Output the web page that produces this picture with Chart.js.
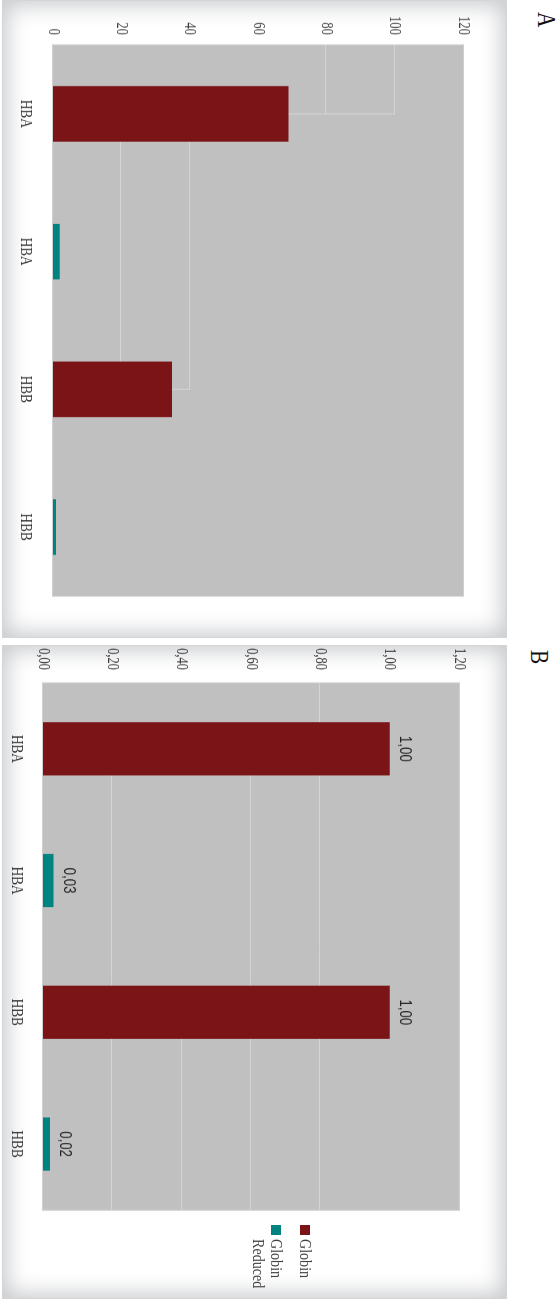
<!DOCTYPE html>
<html>
<head>
<meta charset="utf-8">
<title>Globin A / B</title>
<script src="https://cdn.jsdelivr.net/npm/chart.js@4"></script>
<style>
  html, body { margin: 0; padding: 0; background: #fff; }
  body { width: 559px; height: 1299px; overflow: hidden; position: relative; }
  /* the whole figure is laid out 1299x559 and turned a quarter clockwise */
  #stage { position: absolute; left: 0; top: 0; width: 1299px; height: 559px;
           transform-origin: 0 0; transform: translateX(559px) rotate(90deg); }
  .tag { position: absolute; font: 25px "Liberation Serif"; line-height: 25px; color: #111;
         transform: scaleX(0.85); transform-origin: 0 0; }
  .panel { position: absolute; top: 52px; height: 505px; background: #fff;
           box-shadow: inset 0 0 0 1px #d4d5d7, inset 0 0 22px 5px #c6c8cb; }
  .panel canvas { position: absolute; left: 0; top: 0; }
  #legendB { position: absolute; left: 580px; top: 193px; font: 16px "Liberation Serif";
             line-height: 18px; color: #444; }
  .item { display: flex; align-items: flex-start; margin-bottom: 11px; }
  .swatch { width: 10px; height: 10px; margin-top: 4px; margin-right: 4px; flex: none; }
  .label { display: inline-block; width: 70px; transform: scaleX(0.88); transform-origin: 0 0; }
</style>
</head>
<body>
<div id="stage">
  <div class="tag" style="left:12px; top:0px">A</div>
  <div class="panel" style="left:0px; width:638px">
    <canvas id="chartA" width="818" height="505" style="width:638px;height:505px"></canvas>
  </div>
  <div class="tag" style="left:650px; top:7px">B</div>
  <div class="panel" style="left:645px; width:654px">
    <canvas id="chartB" width="838" height="505" style="width:654px;height:505px"></canvas>
    <div id="legendB"></div>
  </div>
</div>

<script>
const categories = ['HBA', 'HBA', 'HBB', 'HBB'];
const seriesNames = ['Globin', 'Globin Reduced'];
const seriesColors = ['#7b1416', '#008482'];

// panel A
const globinA = [68.9, null, 34.8, null];
const reducedA = [null, 2.0, null, 0.9];
const ticksA = [0, 20, 40, 60, 80, 100, 120];

// panel B
const globinB = [1.00, null, 1.00, null];
const reducedB = [null, 0.03, null, 0.02];
const ticksB = [0, 0.2, 0.4, 0.6, 0.8, 1.0, 1.2];

// grid lines only show in pieces: value, and category span they run over
const gridA = [
  { value: 80, from: -0.5, to: 0 },
  { value: 100, from: -0.5, to: 0 },
  { value: 20, from: 0, to: 2 },
  { value: 40, from: 0, to: 2 }
];
const risersA = [{ at: 0, top: 100 }, { at: 2, top: 40 }];
const gridB = [
  { value: 0.2, from: 0, to: 3.5 },
  { value: 0.4, from: 2, to: 3.5 },
  { value: 0.6, from: 0, to: 3.5 },
  { value: 0.8, from: -0.5, to: 3.5 }
];

const SQ = 0.78; // the source picture is squeezed sideways

const plotBg = {
  id: 'plotBg',
  beforeDraw(chart) {
    const { ctx, chartArea: a } = chart;
    ctx.save();
    ctx.fillStyle = '#c0c0c0';
    ctx.fillRect(a.left, a.top, a.width, a.height);
    ctx.strokeStyle = '#d0d0d0';
    ctx.lineWidth = 1;
    ctx.strokeRect(a.left - 0.5, a.top - 0.5, a.width + 1, a.height + 1);
    ctx.restore();
  }
};

const gridBits = {
  id: 'gridBits',
  beforeDatasetsDraw(chart, args, opts) {
    const { ctx, scales: { x, y } } = chart;
    ctx.save();
    ctx.strokeStyle = '#d4d4d4';
    ctx.lineWidth = 1;
    ctx.beginPath();
    (opts.lines || []).forEach(g => {
      const py = Math.round(y.getPixelForValue(g.value)) + 0.5;
      ctx.moveTo(x.getPixelForValue(g.from), py);
      ctx.lineTo(x.getPixelForValue(g.to), py);
    });
    ctx.stroke();
    ctx.lineWidth = 1 / SQ;
    ctx.beginPath();
    (opts.risers || []).forEach(r => {
      const px = x.getPixelForValue(r.at);
      ctx.moveTo(px, y.getPixelForValue(0));
      ctx.lineTo(px, Math.round(y.getPixelForValue(r.top)));
    });
    ctx.stroke();
    ctx.restore();
  }
};

const valueLabels = {
  id: 'valueLabels',
  afterDatasetsDraw(chart) {
    const { ctx } = chart;
    ctx.save();
    ctx.font = '17px "Liberation Sans"';
    ctx.fillStyle = '#222';
    ctx.textAlign = 'center';
    ctx.textBaseline = 'middle';
    chart.data.datasets.forEach((ds, i) => {
      chart.getDatasetMeta(i).data.forEach((bar, j) => {
        const v = ds.data[j];
        if (v == null) return;
        ctx.fillText(v.toFixed(2).replace('.', ','), bar.x, bar.y - 15);
      });
    });
    ctx.restore();
  }
};

function buildChart(id, globin, reduced, ticks, fmt, lay, bits, plugins) {
  return new Chart(document.getElementById(id), {
    type: 'bar',
    data: {
      labels: categories,
      datasets: [
        { label: seriesNames[0], data: globin, backgroundColor: seriesColors[0] },
        { label: seriesNames[1], data: reduced, backgroundColor: seriesColors[1] }
      ]
    },
    options: {
      responsive: false,
      animation: false,
      datasets: { bar: { grouped: false, categoryPercentage: 0.8, barPercentage: 0.505 } },
      layout: { padding: { top: lay.top, right: lay.right, left: 0, bottom: 0 } },
      plugins: { legend: { display: false }, tooltip: { enabled: false }, gridBits: bits },
      scales: {
        x: {
          grid: { display: false, drawTicks: false },
          border: { display: false },
          ticks: {
            color: '#333',
            font: { family: 'Liberation Serif', size: 17 },
            padding: lay.xPad,
            maxRotation: 0,
            autoSkip: false
          },
          afterFit: s => { s.height = lay.xHeight; }
        },
        y: {
          min: 0,
          max: ticks[ticks.length - 1],
          grid: { display: false, drawTicks: false },
          border: { display: false },
          ticks: {
            color: '#3c3c3c',
            font: { family: 'Liberation Serif', size: 16 },
            padding: lay.yPad,
            callback: fmt
          },
          afterBuildTicks: s => { s.ticks = ticks.map(v => ({ value: v })); },
          afterFit: s => { s.width = lay.yWidth; }
        }
      }
    },
    plugins: plugins
  });
}

buildChart('chartA', globinA, reducedA, ticksA, v => String(v),
  { top: 44, right: 42 / SQ, yWidth: 45 / SQ, yPad: 10 / SQ, xHeight: 51, xPad: 17 },
  { lines: gridA, risers: risersA },
  [plotBg, gridBits]);

buildChart('chartB', globinB, reducedB, ticksB, v => v.toFixed(2).replace('.', ','),
  { top: 48, right: 89 / SQ, yWidth: 38 / SQ, yPad: 13 / SQ, xHeight: 41, xPad: 16 },
  { lines: gridB },
  [plotBg, gridBits, valueLabels]);

// legend for panel B
const legendB = document.getElementById('legendB');
seriesNames.forEach((name, i) => {
  const item = document.createElement('div');
  item.className = 'item';
  item.innerHTML = '<span class="swatch" style="background:' + seriesColors[i] + '"></span>' +
    '<span class="label">' + name + '</span>';
  legendB.appendChild(item);
});
</script>
</body>
</html>
